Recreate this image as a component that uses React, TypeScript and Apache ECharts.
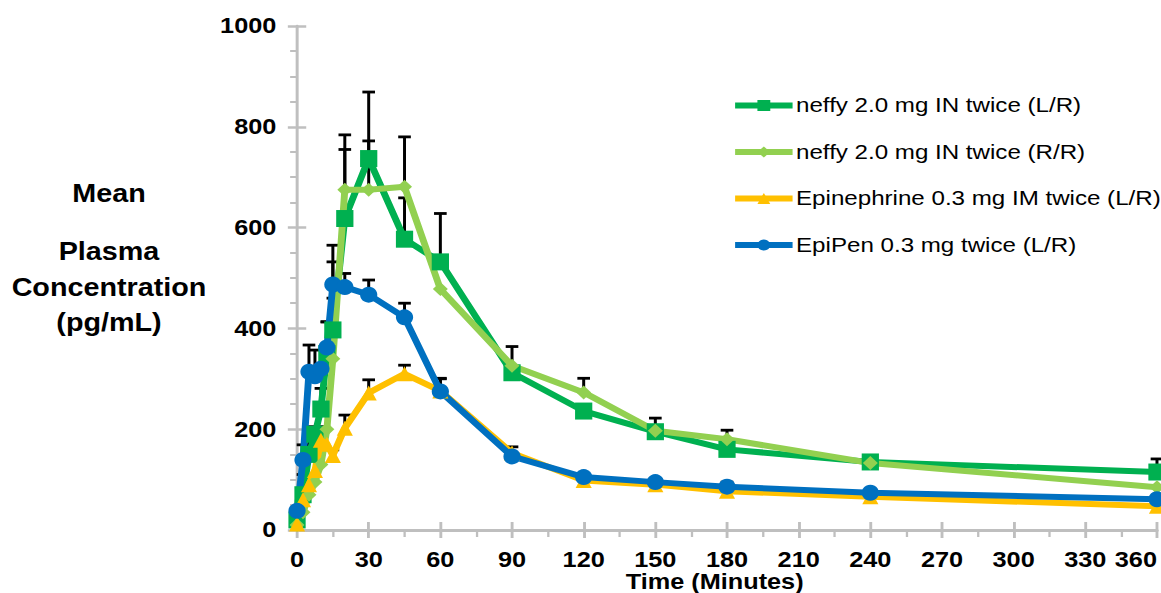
import React, { useEffect, useRef } from "react";
import * as echarts from "echarts";

const times = [0, 2.5, 5, 7.5, 10, 12.5, 15, 20, 30, 45, 60, 90, 120, 150, 180, 240, 360];

const neffyLR = [20, 70, 150, 190, 240, 350, 397, 618, 737, 577, 532, 312, 236, 195, 160, 135, 115];
const neffyRR = [10, 35, 70, 95, 130, 200, 340, 675, 675, 681, 478, 326, 273, 197, 180, 133, 85];
const epiIM = [12, 60, 90, 118, 178, 170, 148, 202, 272, 310, 276, 153, 98, 90, 77, 66, 47];
const epiPen = [38, 139, 314, 305, 320, 362, 487, 482, 467, 422, 275, 146, 105, 95, 86, 74, 61];

// upper ends of the error bars (mean + SD), null where not visible
const neffyLRTop = [null, 110, 205, null, 281, 413, 565, 755, 869, 659, 628, null, null, null, null, 146, 141];
const neffyRRTop = [null, null, null, null, 192, null, 460, 784, 772, 780, null, 364, 301, 222, 198, null, null];
const epiIMTop = [null, null, null, 169, 205, null, 159, 228, 298, 327, 301, 165, null, null, null, null, null];
const epiPenTop = [null, 169, 367, 357, null, 413, 532, 509, 496, 450, 300, null, 112, 102, 95, 80, 66];

const seriesNames = [
  "neffy 2.0 mg IN twice (L/R)",
  "neffy 2.0 mg IN twice (R/R)",
  "Epinephrine 0.3 mg IM twice (L/R)",
  "EpiPen 0.3 mg twice (L/R)",
];
const xTicks = { min: 0, max: 360, interval: 30 };
const yTicks = { min: 0, max: 1000, interval: 200 };

const FONT = "'Liberation Sans', Arial, sans-serif";
const SX = 1161 / 1010;
const AXIS_GRAY = "#bfbfbf";

export default function App() {
  const ref = useRef<HTMLDivElement>(null);
  useEffect(() => {
    if (!ref.current) return;
    const chart = echarts.init(ref.current, null, { renderer: "svg" });
    const toPairs = (vals: number[]) => times.map((t, i) => [t, vals[i]]);
    const errData: any[] = [];
    const addErr = (vals: number[], tops: (number | null)[]) => {
      times.forEach((t, i) => {
        if (tops[i] != null) errData.push([t, vals[i], tops[i]]);
      });
    };
    addErr(neffyLR, neffyLRTop);
    addErr(neffyRR, neffyRRTop);
    addErr(epiIM, epiIMTop);
    addErr(epiPen, epiPenTop);

    const lineSeries = (name: string, vals: number[], color: string, symbol: string, size: any) => ({
      type: "line",
      name,
      data: toPairs(vals),
      symbol,
      symbolSize: size,
      showSymbol: true,
      clip: false,
      z: 3,
      lineStyle: { color, width: 6 },
      itemStyle: { color, borderWidth: 0 },
    });

    chart.setOption({
      animation: false,
      backgroundColor: "#ffffff",
      grid: { left: 258.4, right: 3.5, top: 26, bottom: 63, containLabel: false },
      legend: {
        orient: "vertical",
        left: 636.5,
        top: 95,
        padding: 0,
        itemWidth: 50,
        itemHeight: 14,
        itemGap: 25.5,
        data: seriesNames,
        lineStyle: { width: 6 },
        textStyle: { fontFamily: FONT, fontSize: 21, color: "#000", padding: [0, 0, 0, -2] },
      },
      xAxis: [
        {
          type: "value",
          ...xTicks,
          position: "bottom",
          axisLine: { show: true, lineStyle: { color: AXIS_GRAY, width: 3 } },
          axisTick: { show: true, length: 8, lineStyle: { color: AXIS_GRAY, width: 2.5 } },
          minorTick: { show: true, splitNumber: 2, length: 7, lineStyle: { color: AXIS_GRAY, width: 2 } },
          splitLine: { show: false },
          axisLabel: {
            fontFamily: FONT,
            fontSize: 22,
            fontWeight: "bold",
            color: "#000",
            margin: 19,
            alignMaxLabel: "right",
            formatter: (v: number) => String(v),
          },
        },
        {
          type: "value",
          ...xTicks,
          position: "bottom",
          axisLine: { show: false },
          axisTick: { show: true, inside: true, length: 8, lineStyle: { color: AXIS_GRAY, width: 2.5 } },
          splitLine: { show: false },
          axisLabel: { show: false },
        },
      ],
      yAxis: [
        {
          type: "value",
          ...yTicks,
          position: "left",
          offset: 0,
          axisLine: { show: true, lineStyle: { color: AXIS_GRAY, width: 2.6 } },
          axisTick: { show: true, length: 8, lineStyle: { color: AXIS_GRAY, width: 2.5 } },
          minorTick: { show: true, splitNumber: 4, length: 6, lineStyle: { color: AXIS_GRAY, width: 2 } },
          splitLine: { show: false },
          axisLabel: {
            fontFamily: FONT,
            fontSize: 22,
            fontWeight: "bold",
            color: "#000",
            margin: 18,
            formatter: (v: number) => String(v),
          },
        },
        {
          type: "value",
          ...yTicks,
          position: "left",
          offset: 0,
          axisLine: { show: false },
          axisTick: { show: true, inside: true, length: 8, lineStyle: { color: AXIS_GRAY, width: 2.5 } },
          splitLine: { show: false },
          axisLabel: { show: false },
        },
      ],
      graphic: [
        { type: "text", x: 94.8, y: 194, style: { text: "Mean", font: `bold 25px ${FONT}`, fill: "#000", textAlign: "center", textVerticalAlign: "middle" } },
        { type: "text", x: 94.8, y: 252, style: { text: "Plasma", font: `bold 25px ${FONT}`, fill: "#000", textAlign: "center", textVerticalAlign: "middle" } },
        { type: "text", x: 94.8, y: 288, style: { text: "Concentration", font: `bold 25px ${FONT}`, fill: "#000", textAlign: "center", textVerticalAlign: "middle" } },
        { type: "text", x: 94.8, y: 323, style: { text: "(pg/mL)", font: `bold 25px ${FONT}`, fill: "#000", textAlign: "center", textVerticalAlign: "middle" } },
        { type: "text", x: 621.7, y: 582, style: { text: "Time (Minutes)", font: `bold 22px ${FONT}`, fill: "#000", textAlign: "center", textVerticalAlign: "middle" } },
      ],
      series: [
        {
          type: "custom",
          name: "errors",
          z: 1,
          clip: false,
          data: errData,
          encode: { x: 0, y: [1, 2] },
          renderItem: (params: any, api: any) => {
            const x = api.value(0);
            const p0 = api.coord([x, api.value(1)]);
            const p1 = api.coord([x, api.value(2)]);
            const hw = 5.5;
            return {
              type: "group",
              children: [
                { type: "line", shape: { x1: p0[0], y1: p0[1], x2: p1[0], y2: p1[1] }, style: { stroke: "#000", lineWidth: 2.6 } },
                { type: "line", shape: { x1: p1[0] - hw, y1: p1[1], x2: p1[0] + hw, y2: p1[1] }, style: { stroke: "#000", lineWidth: 2.8 } },
              ],
            };
          },
        },
        lineSeries(seriesNames[0], neffyLR, "#00b050", "rect", [15, 17]),
        lineSeries(seriesNames[1], neffyRR, "#92d050", "diamond", [13, 14]),
        lineSeries(seriesNames[2], epiIM, "#ffc000", "triangle", [14, 15]),
        lineSeries(seriesNames[3], epiPen, "#0070c0", "circle", [15, 16]),
      ],
    });
    return () => chart.dispose();
  }, []);

  return (
    <div style={{ position: "fixed", left: 0, top: 0, width: 1161, height: 593, overflow: "hidden", background: "#fff" }}>
      <div
        ref={ref}
        style={{ width: 1010, height: 593, transform: `scaleX(${SX})`, transformOrigin: "0 0" }}
      />
    </div>
  );
}
